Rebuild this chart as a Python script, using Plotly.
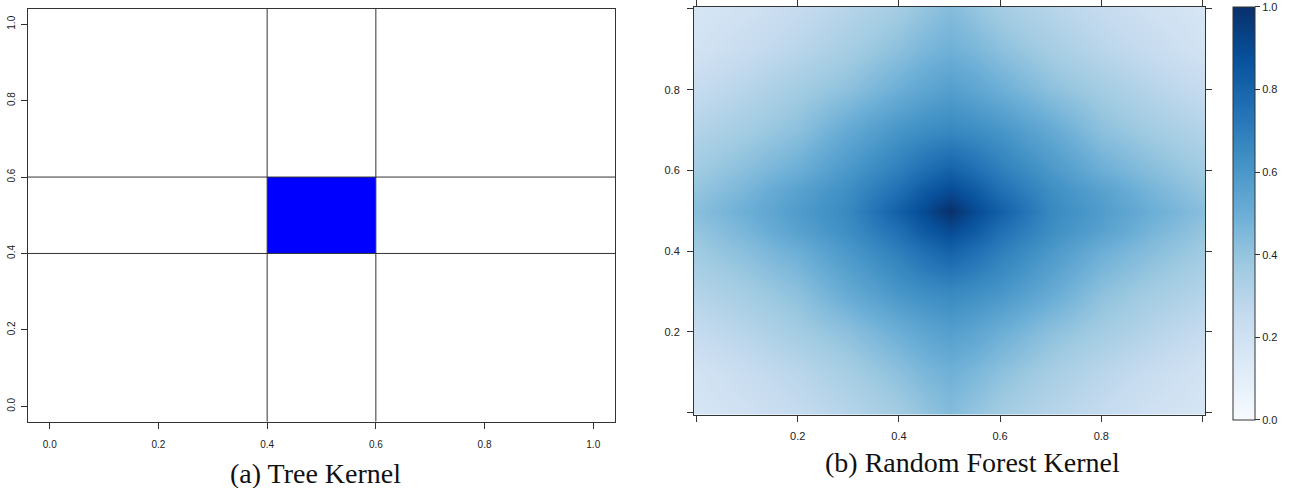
import plotly.graph_objects as go

# ---------------- data ----------------
# (a) Tree kernel: split points and the highlighted cell
tree_splits = [0.4, 0.6]
cell_x = [0.4, 0.6]
cell_y = [0.4, 0.6]

tick_vals = [0.0, 0.2, 0.4, 0.6, 0.8, 1.0]
left_tick_text = ["0.0", "0.2", "0.4", "0.6", "0.8", "1.0"]
right_tick_text = ["", "0.2", "0.4", "0.6", "0.8", ""]
cbar_tick_text = ["0.0", "0.2", "0.4", "0.6", "0.8", "1.0"]

# (b) Random forest kernel: values on a grid
grid_x = [0.0, 0.1, 0.2, 0.3, 0.4, 0.45, 0.5, 0.55, 0.6, 0.7, 0.8, 0.9, 1.0]
grid_y = [0.0, 0.1, 0.2, 0.3, 0.4, 0.45, 0.5, 0.55, 0.6, 0.7, 0.8, 0.9, 1.0]
kernel_z = [
    [0.17, 0.20, 0.25, 0.30, 0.36, 0.40, 0.44, 0.40, 0.36, 0.30, 0.25, 0.20, 0.17],
    [0.19, 0.24, 0.29, 0.35, 0.42, 0.46, 0.49, 0.46, 0.42, 0.35, 0.29, 0.24, 0.19],
    [0.25, 0.30, 0.36, 0.42, 0.50, 0.54, 0.57, 0.54, 0.50, 0.42, 0.36, 0.30, 0.25],
    [0.31, 0.36, 0.42, 0.52, 0.61, 0.64, 0.66, 0.64, 0.61, 0.52, 0.42, 0.36, 0.31],
    [0.37, 0.43, 0.50, 0.60, 0.70, 0.76, 0.81, 0.76, 0.70, 0.60, 0.50, 0.43, 0.37],
    [0.40, 0.47, 0.56, 0.64, 0.76, 0.84, 0.90, 0.84, 0.76, 0.64, 0.56, 0.47, 0.40],
    [0.43, 0.50, 0.58, 0.66, 0.82, 0.90, 1.00, 0.90, 0.82, 0.66, 0.58, 0.50, 0.43],
    [0.40, 0.47, 0.56, 0.64, 0.76, 0.84, 0.90, 0.84, 0.76, 0.64, 0.56, 0.47, 0.40],
    [0.37, 0.43, 0.50, 0.60, 0.70, 0.76, 0.81, 0.76, 0.70, 0.60, 0.50, 0.43, 0.37],
    [0.31, 0.36, 0.42, 0.52, 0.61, 0.64, 0.66, 0.64, 0.61, 0.52, 0.42, 0.36, 0.31],
    [0.25, 0.30, 0.36, 0.42, 0.50, 0.54, 0.57, 0.54, 0.50, 0.42, 0.36, 0.30, 0.25],
    [0.19, 0.24, 0.29, 0.35, 0.42, 0.46, 0.49, 0.46, 0.42, 0.35, 0.29, 0.24, 0.19],
    [0.17, 0.20, 0.25, 0.30, 0.36, 0.40, 0.44, 0.40, 0.36, 0.30, 0.25, 0.20, 0.17],
]

blues = ["#F7FBFF", "#DEEBF7", "#C6DBEF", "#9ECAE1", "#6BAED6",
         "#4292C6", "#2171B5", "#08519C", "#08306B"]

captions = ["(a) Tree Kernel", "(b) Random Forest Kernel"]

# ---------------- figure ----------------
W, H = 1298, 488
fig = go.Figure()

colorscale = [[i / (len(blues) - 1), c] for i, c in enumerate(blues)]

fig.add_trace(go.Heatmap(
    x=grid_x, y=grid_y, z=kernel_z,
    zmin=0, zmax=1, zsmooth="best",
    colorscale=colorscale,
    xaxis="x2", yaxis="y2",
    hoverinfo="skip",
    colorbar=dict(
        x=1233 / W, xanchor="left", xpad=0,
        y=1 - 3 / H, yanchor="top", ypad=0,
        thickness=22, thicknessmode="pixels",
        len=413, lenmode="pixels",
        outlinewidth=1, outlinecolor="#333",
        ticks="outside", ticklen=5, tickcolor="#333",
        tickvals=tick_vals, ticktext=cbar_tick_text,
        tickfont=dict(family="Liberation Sans", size=11, color="#222"),
    ),
))

# invisible trace to anchor left axes
fig.add_trace(go.Scatter(x=[0, 1], y=[0, 1], mode="markers",
                         marker=dict(opacity=0), xaxis="x", yaxis="y",
                         hoverinfo="skip", showlegend=False))

shapes = []
shapes.append(dict(type="rect", xref="x", yref="y",
                   x0=cell_x[0], x1=cell_x[1], y0=cell_y[0], y1=cell_y[1],
                   fillcolor="#0000FF", line=dict(width=0), layer="above"))
for s in tree_splits:
    shapes.append(dict(type="line", xref="x", yref="y domain",
                       x0=s, x1=s, y0=0, y1=1,
                       line=dict(color="#333", width=1), layer="above"))
    shapes.append(dict(type="line", xref="x domain", yref="y",
                       x0=0, x1=1, y0=s, y1=s,
                       line=dict(color="#333", width=1), layer="above"))

tickfont_l = dict(family="Liberation Sans", size=10, color="#222")
tickfont_r = dict(family="Liberation Sans", size=11, color="#222")

common = dict(showgrid=False, zeroline=False, showline=True, linewidth=1,
              linecolor="#333", ticks="outside", tickcolor="#333",
              ticklen=6, tickvals=tick_vals)

fig.update_layout(
    width=W, height=H,
    margin=dict(l=0, r=0, t=0, b=0),
    paper_bgcolor="white", plot_bgcolor="white",
    showlegend=False,
    shapes=shapes,
    xaxis=dict(domain=[28 / W, 615 / W], range=[-0.04, 1.04], anchor="y",
               ticktext=left_tick_text, mirror=True, tickfont=tickfont_l,
               ticklabelstandoff=7, **common),
    yaxis=dict(domain=[1 - 421 / H, 1 - 5 / H], range=[-0.04, 1.04], anchor="x",
               ticktext=left_tick_text, mirror=True, tickangle=-90,
               tickfont=tickfont_l, ticklabelstandoff=2, **common),
    xaxis2=dict(domain=[694 / W, 1205 / W], range=[-0.005, 1.005], anchor="y2",
                ticktext=right_tick_text, mirror="ticks", tickfont=tickfont_r,
                ticklabelstandoff=5, **common),
    yaxis2=dict(domain=[1 - 414 / H, 1 - 3 / H], range=[-0.005, 1.005], anchor="x2",
                ticktext=right_tick_text, mirror="ticks", tickfont=tickfont_r,
                ticklabelstandoff=5, **common),
    annotations=[
        dict(text=captions[0], x=315 / W, y=1 - 473 / H, xref="paper", yref="paper",
             xanchor="center", yanchor="middle", showarrow=False,
             font=dict(family="Liberation Serif", size=28, color="#111")),
        dict(text=captions[1], x=972 / W, y=1 - 462 / H, xref="paper", yref="paper",
             xanchor="center", yanchor="middle", showarrow=False,
             font=dict(family="Liberation Serif", size=28, color="#111")),
    ],
)

fig.write_html("out.html",
               config={"displayModeBar": False},
               post_script="document.body.style.margin='0';document.body.style.overflow='hidden';")
